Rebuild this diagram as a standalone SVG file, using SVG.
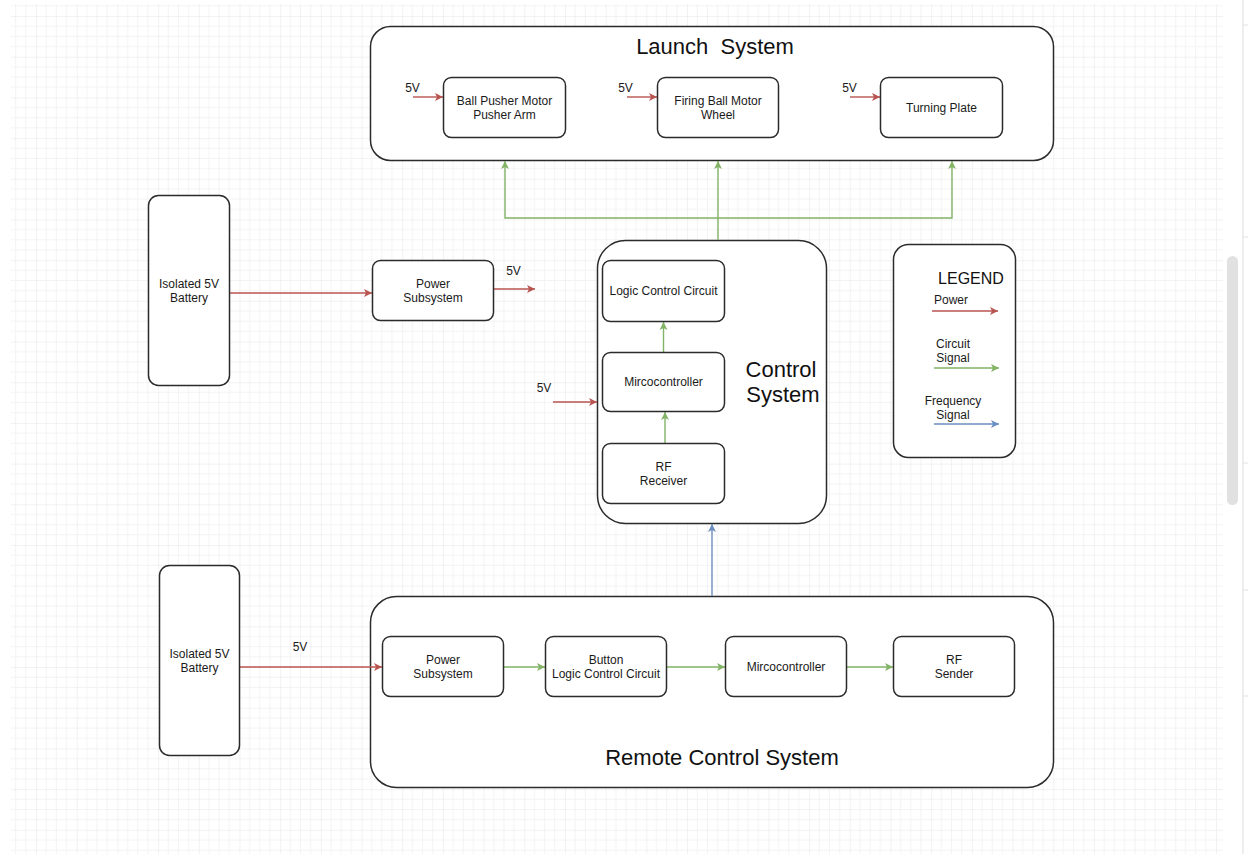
<svg xmlns="http://www.w3.org/2000/svg" width="1248" height="854" viewBox="0 0 1248 854">
  <style>
    .box { fill: #ffffff; stroke: #2b2b2b; stroke-width: 1.5; }
    .lbl { font-family: "Liberation Sans", Arial, sans-serif; font-size: 12px; fill: #1a1a1a; text-anchor: middle; }
    .title { font-family: "Liberation Sans", Arial, sans-serif; font-size: 22px; fill: #111111; text-anchor: middle; white-space: pre; }
    .legend-title { font-family: "Liberation Sans", Arial, sans-serif; font-size: 16px; fill: #111111; text-anchor: middle; }
    .pw { fill: none; stroke: #b85450; stroke-width: 1.4; marker-end: url(#arrRed); }
    .sig { fill: none; stroke: #82b366; stroke-width: 1.4; marker-end: url(#arrGreen); }
    .freq { fill: none; stroke: #6c8ebf; stroke-width: 1.4; marker-end: url(#arrBlue); }
  </style>
  <defs>
    <pattern id="grid" patternUnits="userSpaceOnUse" x="36" y="16" width="40.69" height="40.69">
      <path d="M10.17,0 V40.69 M20.35,0 V40.69 M30.52,0 V40.69 M0,10.17 H40.69 M0,20.35 H40.69 M0,30.52 H40.69" stroke="#f3f3f3" stroke-width="1" fill="none"/>
      <path d="M0,0 V40.69 M0,0 H40.69" stroke="#e6e6e6" stroke-width="1" fill="none"/>
    </pattern>
    <marker id="arrRed" markerUnits="userSpaceOnUse" markerWidth="9" markerHeight="9" refX="8" refY="4" orient="auto" overflow="visible">
      <path d="M0,0 L8,4 L0,8 L2,4 z" fill="#b85450"/>
    </marker>
    <marker id="arrGreen" markerUnits="userSpaceOnUse" markerWidth="9" markerHeight="9" refX="8" refY="4" orient="auto" overflow="visible">
      <path d="M0,0 L8,4 L0,8 L2,4 z" fill="#82b366"/>
    </marker>
    <marker id="arrBlue" markerUnits="userSpaceOnUse" markerWidth="9" markerHeight="9" refX="8" refY="4" orient="auto" overflow="visible">
      <path d="M0,0 L8,4 L0,8 L2,4 z" fill="#6c8ebf"/>
    </marker>
  </defs>

  <!-- canvas and editor chrome -->
  <rect x="0" y="0" width="1248" height="854" fill="#ffffff"/>
  <rect x="11" y="4" width="1212" height="850" fill="url(#grid)"/>
  <line x1="1243" y1="0" x2="1243" y2="854" stroke="#dddddd" stroke-width="1"/>
  <g stroke="#e2e2e2" stroke-width="1">
    <line x1="1243" y1="25" x2="1248" y2="25"/>
    <line x1="1243" y1="237" x2="1248" y2="237"/>
    <line x1="1243" y1="463" x2="1248" y2="463"/>
    <line x1="1243" y1="590" x2="1248" y2="590"/>
    <line x1="1243" y1="696" x2="1248" y2="696"/>
  </g>
  <rect x="1227" y="256" width="11" height="249" rx="5.5" fill="#e1e1e1"/>

  <!-- containers -->
  <g id="launch-system">
    <rect class="box" x="370.5" y="26.5" width="683" height="134" rx="20"/>
    <text class="title" x="715" y="54">Launch  System</text>
  </g>
  <g id="control-system">
    <rect class="box" x="597.5" y="240.5" width="229" height="283" rx="28"/>
    <text class="title" x="781" y="377">Control</text>
    <text class="title" x="783" y="402">System</text>
  </g>
  <g id="remote-control-system">
    <rect class="box" x="370.5" y="596.5" width="683" height="191" rx="26"/>
    <text class="title" x="722" y="765">Remote Control System</text>
  </g>

  <!-- connectors -->
  <g id="connectors">
    <path class="pw" d="M413,97 H443"/>
    <path class="pw" d="M627,97 H657"/>
    <path class="pw" d="M850,97 H880"/>
    <path class="pw" d="M230,293 H372"/>
    <path class="pw" d="M494,289 H535"/>
    <path class="pw" d="M553,402 H597"/>
    <path class="pw" d="M240,667 H382"/>
    <path class="sig" d="M718,240 V161"/>
    <path class="sig" d="M718,218 H505 V161"/>
    <path class="sig" d="M718,218 H952 V161"/>
    <path class="sig" d="M663.5,352 V322"/>
    <path class="sig" d="M665,443 V412"/>
    <path class="sig" d="M504,667 H545"/>
    <path class="sig" d="M667,667 H725"/>
    <path class="sig" d="M847,667 H893"/>
    <path class="freq" d="M712,596 V524"/>
    <text class="lbl" x="412.5" y="92">5V</text>
    <text class="lbl" x="625.5" y="92">5V</text>
    <text class="lbl" x="849.5" y="92">5V</text>
    <text class="lbl" x="513.5" y="275">5V</text>
    <text class="lbl" x="544" y="392">5V</text>
    <text class="lbl" x="300" y="651">5V</text>
  </g>

  <!-- launch system parts -->
  <g id="ball-pusher-motor">
    <rect class="box" x="443.5" y="77.5" width="122" height="60" rx="8"/>
    <text class="lbl" x="504.5" y="104.8">Ball Pusher Motor</text>
    <text class="lbl" x="504.5" y="118.8">Pusher Arm</text>
  </g>
  <g id="firing-ball-motor">
    <rect class="box" x="657.5" y="77.5" width="121" height="60" rx="8"/>
    <text class="lbl" x="718" y="104.8">Firing Ball Motor</text>
    <text class="lbl" x="718" y="118.8">Wheel</text>
  </g>
  <g id="turning-plate">
    <rect class="box" x="880.5" y="77.5" width="122" height="60" rx="8"/>
    <text class="lbl" x="941.5" y="111.5">Turning Plate</text>
  </g>

  <!-- launcher power -->
  <g id="battery-top">
    <rect class="box" x="148.5" y="195.5" width="81" height="190" rx="10"/>
    <text class="lbl" x="189" y="287.5">Isolated 5V</text>
    <text class="lbl" x="189" y="301.5">Battery</text>
  </g>
  <g id="power-subsystem-top">
    <rect class="box" x="372.5" y="260.5" width="121" height="60" rx="8"/>
    <text class="lbl" x="433" y="287.5">Power</text>
    <text class="lbl" x="433" y="301.5">Subsystem</text>
  </g>

  <!-- control system parts -->
  <g id="logic-control-circuit">
    <rect class="box" x="602.5" y="260.5" width="122" height="61" rx="8"/>
    <text class="lbl" x="663.5" y="295">Logic Control Circuit</text>
  </g>
  <g id="microcontroller-control">
    <rect class="box" x="602.5" y="352.5" width="122" height="59" rx="8"/>
    <text class="lbl" x="663.5" y="386">Mircocontroller</text>
  </g>
  <g id="rf-receiver">
    <rect class="box" x="602.5" y="443.5" width="122" height="60" rx="8"/>
    <text class="lbl" x="663.5" y="470.5">RF</text>
    <text class="lbl" x="663.5" y="484.5">Receiver</text>
  </g>

  <!-- legend -->
  <g id="legend">
    <rect class="box" x="893.5" y="244.5" width="122" height="213" rx="15"/>
    <text class="legend-title" x="971" y="284">LEGEND</text>
    <text class="lbl" x="951" y="304">Power</text>
    <path class="pw" d="M932,311 H998"/>
    <text class="lbl" x="953" y="348">Circuit</text>
    <text class="lbl" x="953" y="362">Signal</text>
    <path class="sig" d="M934,368 H999"/>
    <text class="lbl" x="953" y="405">Frequency</text>
    <text class="lbl" x="953" y="419">Signal</text>
    <path class="freq" d="M934,424 H999"/>
  </g>

  <!-- remote control parts -->
  <g id="battery-bottom">
    <rect class="box" x="159.5" y="565.5" width="80" height="190" rx="10"/>
    <text class="lbl" x="199.5" y="657.5">Isolated 5V</text>
    <text class="lbl" x="199.5" y="671.5">Battery</text>
  </g>
  <g id="power-subsystem-remote">
    <rect class="box" x="382.5" y="636.5" width="121" height="60" rx="8"/>
    <text class="lbl" x="443" y="663.5">Power</text>
    <text class="lbl" x="443" y="677.5">Subsystem</text>
  </g>
  <g id="button-logic-control">
    <rect class="box" x="545.5" y="636.5" width="121" height="60" rx="8"/>
    <text class="lbl" x="606" y="663.5">Button</text>
    <text class="lbl" x="606" y="677.5">Logic Control Circuit</text>
  </g>
  <g id="microcontroller-remote">
    <rect class="box" x="725.5" y="636.5" width="121" height="60" rx="8"/>
    <text class="lbl" x="786" y="670.5">Mircocontroller</text>
  </g>
  <g id="rf-sender">
    <rect class="box" x="893.5" y="636.5" width="121" height="60" rx="8"/>
    <text class="lbl" x="954" y="663.5">RF</text>
    <text class="lbl" x="954" y="677.5">Sender</text>
  </g>
</svg>
